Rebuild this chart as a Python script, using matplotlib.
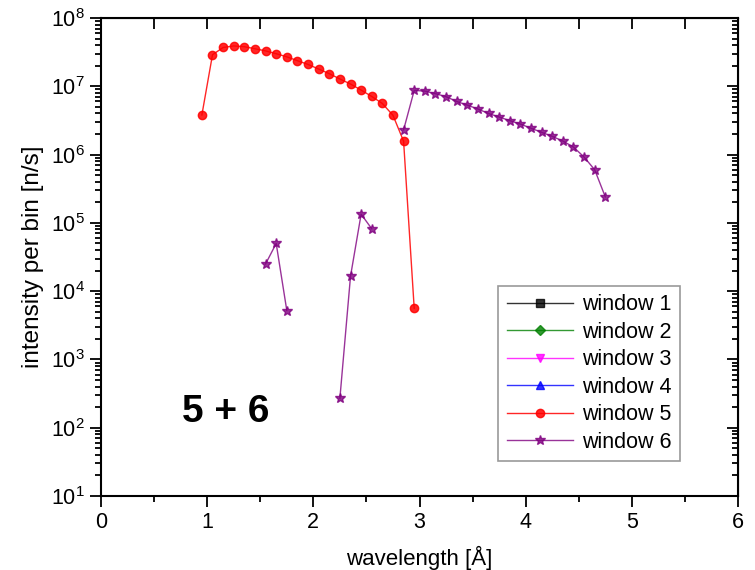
import numpy as np
import matplotlib
matplotlib.use('Agg')
import matplotlib.pyplot as plt
from matplotlib.ticker import MultipleLocator, LogLocator, NullFormatter

plt.rcParams['font.family'] = ['Liberation Sans', 'DejaVu Sans']
plt.rcParams['mathtext.fontset'] = 'custom'
plt.rcParams['mathtext.rm'] = 'Liberation Sans'

# window 5 (red)
wl5 = [0.95, 1.05, 1.15, 1.25, 1.35, 1.45, 1.55, 1.65, 1.75, 1.85, 1.95,
       2.05, 2.15, 2.25, 2.35, 2.45, 2.55, 2.65, 2.75, 2.85, 2.95]
int5 = [3.8e6, 2.9e7, 3.7e7, 3.9e7, 3.8e7, 3.55e7, 3.3e7, 3.0e7, 2.7e7, 2.37e7, 2.09e7,
        1.79e7, 1.53e7, 1.28e7, 1.08e7, 8.8e6, 7.1e6, 5.6e6, 3.76e6, 1.57e6, 5.6e3]

# window 6 (purple), gaps where no data
wl6 = [1.55, 1.65, 1.75, 2.0, 2.25, 2.35, 2.45, 2.55, 2.7,
       2.85, 2.95, 3.05, 3.15, 3.25, 3.35, 3.45, 3.55, 3.65, 3.75, 3.85,
       3.95, 4.05, 4.15, 4.25, 4.35, 4.45, 4.55, 4.65, 4.75]
int6 = [2.5e4, 5.0e4, 5.2e3, np.nan, 2.7e2, 1.65e4, 1.34e5, 8.2e4, np.nan,
        2.3e6, 8.7e6, 8.5e6, 7.8e6, 7.05e6, 6.0e6, 5.3e6, 4.65e6, 4.0e6, 3.55e6, 3.14e6,
        2.8e6, 2.43e6, 2.12e6, 1.85e6, 1.58e6, 1.29e6, 9.2e5, 6.0e5, 2.4e5]

labels = ['window 1', 'window 2', 'window 3', 'window 4', 'window 5', 'window 6']
colors = ['black', '#008000', '#ff00ff', '#0000ff', '#ff0000', '#800080']
markers = ['s', 'D', 'v', '^', 'o', '*']

fig = plt.figure(figsize=(7.55, 5.70), dpi=100)
ax = fig.add_axes([0.1338, 0.1298, 0.8437, 0.8386])

# empty windows 1-4 only show up in the legend
for i in range(4):
    ax.plot([], [], color=colors[i], marker=markers[i], ms=5.5, lw=1, alpha=0.8,
            label=labels[i])
ax.plot(wl5, int5, color=colors[4], marker='o', ms=6, lw=1, alpha=0.85,
        mec=colors[4], mfc=colors[4], label=labels[4])
ax.plot(wl6, int6, color=colors[5], marker='*', ms=7, lw=1, alpha=0.8,
        label=labels[5])

ax.set_yscale('log')
ax.set_xlim(0, 6)
ax.set_ylim(1e1, 1e8)
ax.xaxis.set_major_locator(MultipleLocator(1))
ax.xaxis.set_minor_locator(MultipleLocator(0.5))
ax.yaxis.set_major_locator(LogLocator(base=10, numticks=20))
ax.yaxis.set_minor_locator(LogLocator(base=10, subs=np.arange(2, 10), numticks=20))
ax.yaxis.set_minor_formatter(NullFormatter())

ax.tick_params(which='both', direction='out', labelsize=15.5, width=1.3, colors='black')
ax.tick_params(which='major', length=8)
ax.tick_params(which='minor', length=4)
for s in ax.spines.values():
    s.set_linewidth(1.5)

# mirrored axes with inward ticks
axt = ax.secondary_xaxis('top')
axt.xaxis.set_major_locator(MultipleLocator(0.5))
axt.tick_params(direction='in', length=8, width=1.3, labeltop=False)
axr = ax.secondary_yaxis('right')
axr.yaxis.set_major_locator(LogLocator(base=10, numticks=20))
axr.yaxis.set_minor_locator(LogLocator(base=10, subs=np.arange(2, 10), numticks=20))
axr.yaxis.set_minor_formatter(NullFormatter())
axr.tick_params(which='both', direction='in', width=1.3, labelright=False)
axr.tick_params(which='major', length=8)
axr.tick_params(which='minor', length=4)

ax.set_xlabel('wavelength [Å]', fontsize=16, labelpad=9)
ax.set_ylabel('intensity per bin [n/s]', fontsize=17.5, labelpad=5)

ax.text(0.127, 0.155, '5 + 6', transform=ax.transAxes, fontsize=28,
        fontweight='bold', ha='left', va='baseline')

leg = ax.legend(loc='lower right', bbox_to_anchor=(0.909, 0.073), fontsize=15.5,
                frameon=True, fancybox=False, edgecolor='#808080',
                handlelength=3.1, handletextpad=0.4, borderpad=0.4,
                labelspacing=0.3, borderaxespad=0)
leg.get_frame().set_linewidth(1.2)

fig.savefig('out.png', dpi=100)
